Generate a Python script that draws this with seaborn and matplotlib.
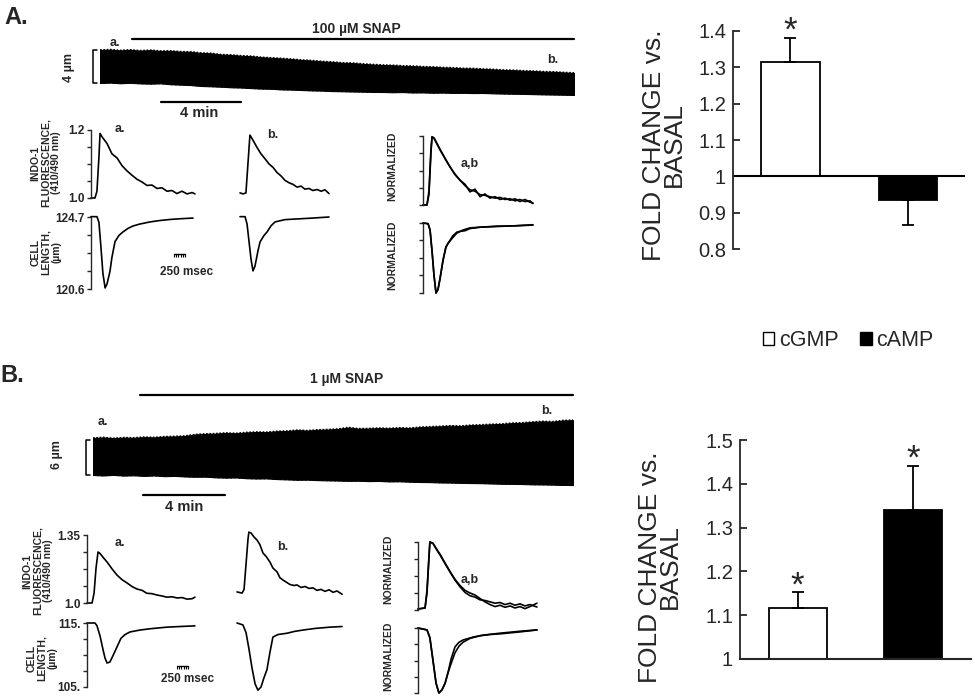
import matplotlib
matplotlib.use("Agg")
import matplotlib.pyplot as plt
from matplotlib.patches import Patch
import numpy as np
import pandas as pd
import seaborn as sns

# ---- bar charts: fold change vs. basal ----
nucleotides = ["cGMP", "cAMP"]
fold_hi = [1.314, 0.935]          # 100 uM SNAP
sem_hi = [0.066, 0.068]
signif_hi = [True, False]
fold_lo = [1.117, 1.340]          # 1 uM SNAP
sem_lo = [0.035, 0.100]
signif_lo = [True, True]

# ---- continuous cell-length recordings, envelope in um, one value per 0.5 min ----
band_hi_top = [4.00, 4.05, 3.95, 4.02, 3.92, 3.98, 3.88, 3.90, 3.80, 3.78, 3.64, 3.60,
               3.45, 3.40, 3.30, 3.25, 3.12, 3.05, 2.98, 2.90, 2.79, 2.72, 2.62, 2.55,
               2.45, 2.42, 2.32, 2.25, 2.18, 2.15, 2.08, 2.05, 1.98, 1.95, 1.88, 1.85,
               1.78, 1.76, 1.70, 1.65, 1.58, 1.55, 1.48, 1.45, 1.38, 1.35, 1.28, 1.22]
band_hi_bottom = [0.00, 0.05, -0.03, 0.02, -0.05, -0.08, -0.04, -0.15, -0.20, -0.25, -0.36, -0.40,
                  -0.45, -0.52, -0.55, -0.62, -0.68, -0.70, -0.78, -0.80, -0.85, -0.90, -0.92, -0.98,
                  -1.00, -1.03, -1.05, -1.08, -1.09, -1.12, -1.10, -1.15, -1.14, -1.18, -1.16, -1.20,
                  -1.19, -1.22, -1.21, -1.25, -1.28, -1.30, -1.32, -1.35, -1.38, -1.40, -1.42, -1.45]
band_lo_top = [6.35, 6.45, 6.30, 6.42, 6.38, 6.50, 6.45, 6.58, 6.62, 6.70, 6.95, 7.05,
               7.10, 7.22, 7.15, 7.30, 7.38, 7.35, 7.50, 7.55, 7.70, 7.62, 7.75, 7.80,
               7.90, 8.15, 7.95, 7.98, 8.05, 8.00, 8.10, 8.05, 8.20, 8.28, 8.35, 8.45,
               8.40, 8.55, 8.60, 8.70, 8.75, 8.90, 8.95, 9.10, 9.20, 9.15, 9.35, 9.40]
band_lo_bottom = [0.00, -0.08, 0.02, -0.10, -0.05, -0.15, -0.08, -0.20, -0.15, -0.25, -0.30, -0.28,
                  -0.40, -0.45, -0.42, -0.55, -0.60, -0.58, -0.70, -0.75, -0.82, -0.80, -0.88, -0.92,
                  -0.95, -1.00, -0.98, -1.05, -1.02, -1.10, -1.08, -1.15, -1.20, -1.22, -1.28, -1.30,
                  -1.35, -1.38, -1.40, -1.45, -1.50, -1.52, -1.55, -1.60, -1.62, -1.65, -1.70, -1.72]
SNAP_HI_START = 1.6   # min
SNAP_LO_START = 2.3

# ---- single twitches (time in ms) : 100 uM SNAP ----
hi_a_fluo_ms = [0, 90, 135, 180, 205, 250, 365, 475, 590, 705, 815, 930, 1045, 1160, 1270,
                1385, 1500, 1610, 1725, 1840, 1950, 2065, 2180, 2295, 2360]
hi_a_fluo = [1.0, 1.0, 1.02, 1.12, 1.19, 1.18, 1.16, 1.13, 1.118, 1.095, 1.08, 1.067, 1.055,
             1.047, 1.037, 1.038, 1.028, 1.03, 1.02, 1.022, 1.013, 1.02, 1.012, 1.016, 1.012]
hi_a_len_ms = [0, 135, 180, 225, 270, 320, 365, 430, 475, 545, 635, 725, 840, 955, 1110,
               1340, 1565, 1795, 2020, 2315]
hi_a_len = [124.72, 124.72, 124.4, 123.0, 121.5, 120.66, 120.9, 121.6, 122.4, 123.3, 123.65,
            123.85, 124.05, 124.19, 124.3, 124.42, 124.5, 124.56, 124.6, 124.64]
hi_b_fluo_ms = [0, 70, 135, 180, 225, 295, 385, 475, 570, 660, 750, 840, 930, 1020, 1110,
                1205, 1295, 1385, 1475, 1565, 1655, 1750, 1840, 1930, 2020]
hi_b_fluo = [1.015, 1.012, 1.015, 1.10, 1.185, 1.17, 1.149, 1.13, 1.115, 1.10, 1.09, 1.075,
             1.065, 1.052, 1.045, 1.04, 1.032, 1.035, 1.026, 1.028, 1.022, 1.025, 1.02, 1.024, 1.013]
hi_b_len_ms = [0, 115, 160, 205, 250, 295, 340, 410, 455, 545, 615, 705, 795, 1020, 1295, 1590, 2020]
hi_b_len = [124.72, 124.72, 124.3, 123.3, 122.3, 121.63, 121.9, 122.8, 123.28, 123.65, 123.85,
            124.2, 124.42, 124.55, 124.59, 124.63, 124.7]
hi_norm_fluo_ms = [0, 90, 135, 180, 205, 250, 320, 385, 500, 615, 725, 840, 955, 1065, 1180,
                   1295, 1405, 1520, 1635, 1750, 1860, 1975, 2090, 2200, 2315, 2430, 2495]
hi_norm_fluo_a = [0.0, 0.0, 0.2, 0.8, 0.986, 0.97, 0.88, 0.80, 0.67, 0.55, 0.45, 0.36, 0.28, 0.22,
                  0.20, 0.15, 0.14, 0.12, 0.10, 0.11, 0.08, 0.09, 0.06, 0.08, 0.05, 0.06, 0.02]
hi_norm_fluo_b = [0.0, 0.0, 0.15, 0.75, 0.99, 0.97, 0.89, 0.81, 0.68, 0.55, 0.44, 0.36, 0.30, 0.19,
                  0.23, 0.12, 0.16, 0.10, 0.12, 0.08, 0.10, 0.07, 0.09, 0.05, 0.08, 0.04, 0.03]
hi_norm_len_a_ms = [0, 115, 160, 205, 250, 295, 340, 385, 455, 520, 570, 660, 770, 910, 1065,
                    1295, 1680, 2090, 2495]
hi_norm_len_a = [1.0, 0.99, 0.9, 0.6, 0.25, 0.0, 0.05, 0.2, 0.47, 0.65, 0.71, 0.78, 0.857, 0.90,
                 0.93, 0.94, 0.95, 0.96, 0.97]
hi_norm_len_b_ms = [0, 115, 160, 205, 250, 295, 340, 385, 455, 520, 590, 680, 770, 840, 955,
                    1065, 1295, 1680, 2090, 2495]
hi_norm_len_b = [1.0, 0.99, 0.9, 0.6, 0.25, 0.0, 0.05, 0.2, 0.47, 0.66, 0.73, 0.82, 0.87, 0.88,
                 0.89, 0.92, 0.94, 0.955, 0.96, 0.975]

# ---- single twitches (time in ms) : 1 uM SNAP ----
lo_a_fluo_ms = [0, 115, 160, 205, 250, 295, 365, 455, 570, 680, 795, 910, 1020, 1135, 1250,
                1360, 1475, 1590, 1705, 1815, 1930, 2045, 2155, 2270, 2385, 2450]
lo_a_fluo = [1.0, 1.0, 1.05, 1.18, 1.2625, 1.255, 1.235, 1.211, 1.175, 1.144, 1.12, 1.103, 1.085,
             1.072, 1.065, 1.05, 1.048, 1.041, 1.036, 1.03, 1.032, 1.026, 1.028, 1.02, 1.022, 1.03]
lo_a_len_ms = [0, 180, 225, 295, 365, 410, 455, 520, 590, 680, 770, 865, 975, 1205, 1430,
               1815, 2110, 2450]
lo_a_len = [115, 115, 114.6, 113.0, 110.8, 109.5, 108.75, 108.9, 109.9, 111.25, 112.6, 113.2,
            113.6, 113.9, 114.1, 114.35, 114.45, 114.55]
lo_b_fluo_ms = [0, 115, 160, 205, 250, 270, 320, 385, 455, 520, 590, 660, 750, 815, 910, 975,
                1045, 1135, 1205, 1295, 1360, 1455, 1545, 1635, 1725, 1815, 1905, 2000, 2090,
                2180, 2270, 2385]
lo_b_fluo = [1.057, 1.051, 1.07, 1.2, 1.33, 1.365, 1.36, 1.34, 1.324, 1.30, 1.257, 1.24, 1.21,
             1.18, 1.16, 1.13, 1.118, 1.105, 1.095, 1.09, 1.093, 1.08, 1.085, 1.075, 1.078,
             1.065, 1.07, 1.06, 1.068, 1.055, 1.062, 1.045]
lo_b_len_ms = [0, 135, 205, 270, 340, 410, 475, 545, 615, 680, 750, 815, 930, 1135, 1315, 1500,
               1770, 2110, 2385]
lo_b_len = [115, 114.7, 113.5, 111.0, 108.0, 105.5, 104.5, 105.0, 106.5, 107.7, 110.5, 112.8,
            113.2, 113.4, 113.7, 113.9, 114.15, 114.35, 114.45]
lo_norm_fluo_ms = [0, 160, 205, 250, 270, 340, 410, 500, 615, 725, 840, 955, 1065, 1180, 1295,
                   1405, 1520, 1635, 1750, 1860, 1975, 2090, 2200, 2315, 2430, 2540, 2700]
lo_norm_fluo_a = [0.015, 0.03, 0.3, 0.8, 1.0, 0.98, 0.9, 0.81, 0.68, 0.56, 0.44, 0.34, 0.26, 0.21,
                  0.19, 0.15, 0.14, 0.12, 0.10, 0.11, 0.08, 0.10, 0.07, 0.09, 0.06, 0.08, 0.044]
lo_norm_fluo_b = [0.015, 0.03, 0.25, 0.78, 1.0, 0.98, 0.91, 0.82, 0.69, 0.57, 0.45, 0.36, 0.29,
                  0.25, 0.22, 0.17, 0.12, 0.08, 0.05, 0.07, 0.04, 0.06, 0.03, 0.05, 0.02, 0.05, 0.10]
lo_norm_len_a_ms = [0, 205, 270, 340, 410, 475, 545, 615, 680, 750, 840, 930, 1020, 1250, 1475,
                    1860, 2315, 2700]
lo_norm_len_a = [1.0, 0.97, 0.85, 0.5, 0.15, 0.0, 0.05, 0.15, 0.31, 0.52, 0.71, 0.78, 0.815, 0.86,
                 0.89, 0.92, 0.95, 0.97]
lo_norm_len_b_ms = [0, 205, 270, 340, 410, 475, 545, 615, 680, 750, 840, 930, 1020, 1180, 1405,
                    1635, 1860, 2315, 2700]
lo_norm_len_b = [1.0, 0.97, 0.85, 0.5, 0.15, 0.0, 0.05, 0.15, 0.31, 0.45, 0.62, 0.72, 0.78, 0.84,
                 0.88, 0.90, 0.91, 0.94, 0.97]

sns.set_theme(style="ticks")
plt.rcParams["font.family"] = ["Liberation Sans", "DejaVu Sans"]
NARROW = ["Liberation Sans Narrow", "Liberation Sans", "DejaVu Sans"]

W, H = 975, 698
fig = plt.figure(figsize=(W / 100, H / 100), dpi=100)
fig.patch.set_facecolor("white")

TRACE_SPAN = 120 * 22.7   # ms across one trace box


def box(x0, y0, x1, y1):
    ax = fig.add_axes([x0 / W, 1 - y1 / H, (x1 - x0) / W, (y1 - y0) / H])
    ax.patch.set_alpha(0)
    return ax


def label(x, y, s, size=8.5, rotation=0, narrow=True, **kw):
    fig.text(x / W, 1 - y / H, s, fontsize=size, rotation=rotation, ha="center", va="center",
             family=NARROW if narrow else ["Liberation Sans", "DejaVu Sans"],
             fontweight="bold", **kw)


def draw(ax, t, v):
    sns.lineplot(x=t, y=v, ax=ax, color="black", lw=1.2, sort=False, estimator=None, clip_on=False)


def trace_style(ax, ylim, ticklabels=None):
    ax.set_xlim(0, TRACE_SPAN)
    ax.set_ylim(*ylim)
    sns.despine(ax=ax, bottom=True)
    ax.set_xticks([])
    ax.set_xlabel("")
    ax.set_ylabel("")
    if ticklabels is None:
        ax.spines["left"].set_visible(False)
        ax.set_yticks([])
        return
    ax.set_yticks(np.linspace(ylim[0], ylim[1], 5), ticklabels)
    ax.tick_params(axis="y", direction="out", length=3, width=1, pad=1.5, labelsize=8.5)
    for t in ax.get_yticklabels():
        t.set_family(NARROW)
        t.set_fontweight("bold")
    ax.spines["left"].set_linewidth(1)


def scale_bar(ax, t0, y):
    ax.plot([t0, t0 + 250], [y, y], color="black", lw=1, clip_on=False)
    ax.plot(np.linspace(t0, t0 + 250, 6), [y] * 6, ls="none", marker=3, ms=2.5,
            mew=0.8, color="black", clip_on=False)


def recording(rect, top, bottom, snap_start, snap_y, bar_start, bar_y, um, ylim):
    ax = box(*rect)
    minutes = np.arange(len(top)) * 0.5
    ax.fill_between(minutes, bottom, top, color="black", lw=0.8, edgecolor="black")
    ax.plot(minutes, top, color="black", lw=1.2, ls=(0, (1, 1)))
    ax.plot(minutes, bottom, color="black", lw=1.2, ls=(0, (1, 1.5)))
    ax.plot([snap_start, minutes[-1]], [snap_y, snap_y], color="black", lw=1.6, clip_on=False)
    ax.plot([bar_start, bar_start + 4], [bar_y, bar_y], color="black", lw=1.6, clip_on=False)
    ax.plot([-0.15, -0.35, -0.35, -0.15], [0, 0, um, um], color="black", lw=1.1, clip_on=False)
    ax.set_xlim(0, minutes[-1])
    ax.set_ylim(*ylim)
    ax.axis("off")


def fold_bars(rect, fold, sem, signif, ylim, xlim):
    ax = box(*rect)
    change = np.array(fold) - 1
    df = pd.DataFrame({"nucleotide": nucleotides, "change": change})
    sns.barplot(data=df, x="nucleotide", y="change", hue="nucleotide",
                palette={"cGMP": "white", "cAMP": "black"}, saturation=1, edgecolor="black",
                linewidth=1.3, width=0.5, errorbar=None, legend=False, ax=ax)
    lower = [s if c < 0 else 0 for c, s in zip(change, sem)]
    upper = [s if c >= 0 else 0 for c, s in zip(change, sem)]
    ax.errorbar(x=[0, 1], y=change, yerr=[lower, upper], fmt="none", ecolor="black",
                elinewidth=1.3, capsize=4, capthick=1.3, zorder=3)
    for i, (c, s, sig) in enumerate(zip(change, sem, signif)):
        if sig:
            ax.annotate("*", (i, c + s), xytext=(0, -7), textcoords="offset points",
                        ha="center", va="bottom", fontsize=25)
    ticks = np.round(np.arange(ylim[0], ylim[1] + 1e-9, 0.1), 2)
    ax.set_yticks(ticks, [f"{1 + t:g}" for t in ticks])
    ax.set_ylim(*ylim)
    ax.set_xlim(*xlim)
    ax.set_xticks([])
    ax.set_xlabel("")
    ax.set_ylabel("")
    ax.tick_params(axis="y", direction="in", length=5, width=1.3, pad=5, labelsize=14.5)
    sns.despine(ax=ax)
    ax.spines["left"].set_linewidth(1.3)
    ax.spines["bottom"].set_linewidth(1.5)
    return ax


# ================= panel A : 100 uM SNAP =================
label(16, 17, "A.", size=17, narrow=False)
recording((100, 40, 574, 100), band_hi_top, band_hi_bottom, SNAP_HI_START, 5.33, 3.0, -2.3, 4,
          (-2.06, 5.21))
label(356, 29, "100 \u00b5M SNAP", size=10)
label(115, 43, "a.", size=9)
label(553, 60, "b.", size=9)
label(69, 67, "4 \u00b5m", size=9, rotation=90)
label(199, 113, "4 min", size=10.5)

ax = box(91, 130, 211, 198)
draw(ax, hi_a_fluo_ms, hi_a_fluo)
trace_style(ax, (1.0, 1.2), ["1.0", "", "", "", "1.2"])
ax = box(91, 217, 211, 289)
draw(ax, hi_a_len_ms, hi_a_len)
trace_style(ax, (120.6, 124.7), ["120.6", "", "", "", "124.7"])
scale_bar(ax, 1885, 122.6)
ax = box(240, 130, 360, 198)
draw(ax, hi_b_fluo_ms, hi_b_fluo)
trace_style(ax, (1.0, 1.2))
ax = box(240, 217, 360, 289)
draw(ax, hi_b_len_ms, hi_b_len)
trace_style(ax, (120.6, 124.7))
ax = box(423, 136, 543, 205)
draw(ax, hi_norm_fluo_ms, hi_norm_fluo_a)
draw(ax, hi_norm_fluo_ms, hi_norm_fluo_b)
trace_style(ax, (0, 1), [""] * 5)
ax = box(423, 223, 543, 293)
draw(ax, hi_norm_len_a_ms, hi_norm_len_a)
draw(ax, hi_norm_len_b_ms, hi_norm_len_b)
trace_style(ax, (0, 1), [""] * 5)

label(46, 163, "INDO-1\nFLUORESCENCE,\n(410/490 nm)", size=7.5, rotation=90, linespacing=1.05)
label(46, 252, "CELL\nLENGTH,\n(\u00b5m)", size=7.5, rotation=90, linespacing=1.05)
label(120, 129, "a.", size=9)
label(273, 135, "b.", size=9)
label(470, 164, "a,b", size=9)
label(392, 166, "NORMALIZED", size=7.5, rotation=90)
label(392, 255, "NORMALIZED", size=7.5, rotation=90)
label(187, 272, "250 msec")

# ================= panel B : 1 uM SNAP =================
label(12, 375, "B.", size=17, narrow=False)
recording((93, 410, 573, 495), band_lo_top, band_lo_bottom, SNAP_LO_START, 13.72, 2.45, -3.43, 6,
          (-3.43, 11.15))
label(347, 379, "1 \u00b5M SNAP", size=10)
label(103, 422, "a.", size=9)
label(547, 411, "b.", size=9)
label(57, 455, "6 \u00b5m", size=9, rotation=90)
label(184, 507, "4 min", size=10.5)

ax = box(87, 535, 207, 603)
draw(ax, lo_a_fluo_ms, lo_a_fluo)
trace_style(ax, (1.0, 1.35), ["1.0", "", "", "", "1.35"])
ax = box(87, 623, 207, 687)
draw(ax, lo_a_len_ms, lo_a_len)
trace_style(ax, (105, 115), ["105.", "", "", "", "115."])
scale_bar(ax, 2045, 108.3)
ax = box(237, 535, 357, 603)
draw(ax, lo_b_fluo_ms, lo_b_fluo)
trace_style(ax, (1.0, 1.35))
ax = box(237, 623, 357, 687)
draw(ax, lo_b_len_ms, lo_b_len)
trace_style(ax, (105, 115))
ax = box(418, 542, 538, 610)
draw(ax, lo_norm_fluo_ms, lo_norm_fluo_a)
draw(ax, lo_norm_fluo_ms, lo_norm_fluo_b)
trace_style(ax, (0, 1), [""] * 5)
ax = box(418, 628, 538, 693)
draw(ax, lo_norm_len_a_ms, lo_norm_len_a)
draw(ax, lo_norm_len_b_ms, lo_norm_len_b)
trace_style(ax, (0, 1), [""] * 5)

label(38, 571, "INDO-1\nFLUORESCENCE,\n(410/490 nm)", size=7.5, rotation=90, linespacing=1.05)
label(42, 658, "CELL\nLENGTH,\n(\u00b5m)", size=7.5, rotation=90, linespacing=1.05)
label(120, 543, "a.", size=9)
label(283, 547, "b.", size=9)
label(470, 580, "a,b", size=9)
label(388, 569, "NORMALIZED", size=7.5, rotation=90)
label(388, 656, "NORMALIZED", size=7.5, rotation=90)
label(188, 679, "250 msec")

# ================= bar charts =================
ax = fold_bars((733, 31, 965, 249), fold_hi, sem_hi, signif_hi, (-0.2, 0.4), (-0.489, 1.485))
ax.spines["bottom"].set_visible(False)
ax.axhline(0, color="black", lw=1.5)
ax = fold_bars((740, 440, 971, 659), fold_lo, sem_lo, signif_lo, (0.0, 0.5), (-0.496, 1.496))

for x, y in ((664, 145), (660, 567)):
    fig.text(x / W, 1 - y / H, "FOLD CHANGE vs.\nBASAL", rotation=90, ha="center",
             va="center", fontsize=19, linespacing=0.8, multialignment="center")

handles = [Patch(facecolor="white", edgecolor="black", lw=1),
           Patch(facecolor="black", edgecolor="black", lw=1)]
fig.legend(handles, nucleotides, loc="center", bbox_to_anchor=(848 / W, 1 - 341 / H), ncol=2,
           frameon=False, fontsize=15.5, handlelength=0.55, handleheight=0.55, handletextpad=0.2,
           columnspacing=1.0)

fig.savefig("out.png", dpi=100, facecolor="white")
